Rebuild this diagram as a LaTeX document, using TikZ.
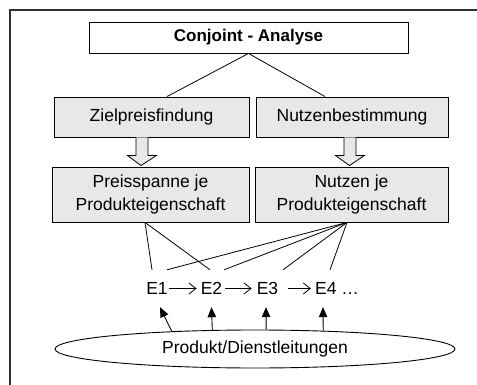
\documentclass[tikz,border=0pt]{standalone}
\usepackage{fontspec}
\setmainfont{Liberation Sans}
\usetikzlibrary{shapes.geometric,arrows.meta,calc}

\definecolor{boxgray}{HTML}{E8E8E8}
\definecolor{framegray}{HTML}{303030}

\tikzset{
  every node/.style={font=\fontsize{17.5}{23.5}\selectfont, text=black},
  plainbox/.style={draw=black, line width=0.9pt, inner sep=0pt, align=center},
  graybox/.style={plainbox, fill=boxgray},
  link/.style={draw=black, line width=0.8pt},
  enode/.style={inner xsep=0pt, inner ysep=0pt, minimum height=37pt},
  flowarrow/.style={draw=black, line width=0.8pt, -{Straight Barb[length=7pt,width=11pt]}},
  uparrow/.style={draw=black, line width=0.9pt, -{Triangle[length=10pt,width=8.5pt]}},
  blockarrow/.style={draw=black, line width=0.8pt, fill=boxgray, line join=miter}
}

\begin{document}
\begin{tikzpicture}[x=1pt,y=-1pt]
  \useasboundingbox (0,0) rectangle (477,385);

  % outer frame
  \draw[framegray, line width=1.4pt] (10,385) -- (10,10) -- (477,10);

  % boxes
  \node[plainbox, minimum width=319pt, minimum height=31pt, font=\fontsize{17}{20}\selectfont\bfseries]
    (top) at (248.5,37.5) {Conjoint - Analyse};
  \node[graybox, minimum width=195pt, minimum height=40pt] (zp) at (151.5,117) {Zielpreisfindung};
  \node[graybox, minimum width=192pt, minimum height=40pt] (nb) at (352,117) {Nutzenbestimmung};
  \node[graybox, minimum width=197pt, minimum height=55pt] (ps) at (150.5,194.5) {Preisspanne je\\Produkteigenschaft};
  \node[graybox, minimum width=193pt, minimum height=55pt] (nj) at (351.5,194.5) {Nutzen je\\Produkteigenschaft};

  % ellipse
  \node[draw=black, line width=0.9pt, ellipse, inner sep=0pt, minimum width=400pt, minimum height=38pt]
    (el) at (255,349) {Produkt/Dienstleitungen};

  % element row
  \node[enode] (e1) at (157,288.5) {E1};
  \node[enode] (e2) at (211.5,288.5) {E2};
  \node[enode] (e3) at (267.5,288.5) {E3};
  \node[enode] (e4) at (337,288.5) {E4 …};

  % branches from the top box
  \draw[link] (top.south) -- ($(zp.north)+(15.5,0)$);
  \draw[link] (top.south) -- ($(nb.north)+(-27,0)$);

  % block arrows between the gray boxes
  \foreach \src/\dst/\dx in {zp/ps/-9.5, nb/nj/-2} {
    \draw[blockarrow]
      ($(\src.south)+(\dx-6,0)$) -- ($(\src.south)+(\dx-6,18)$) --
      ($(\src.south)+(\dx-14.5,18)$) -- ($(\dst.north)+(\dx,-1)$) --
      ($(\src.south)+(\dx+14.5,18)$) -- ($(\src.south)+(\dx+6,18)$) --
      ($(\src.south)+(\dx+6,0)$);
  }

  % connectors to the elements
  \coordinate (psb) at ($(ps.south)+(-5.5,0)$);
  \coordinate (njb) at ($(nj.south)+(-4.5,0)$);
  \draw[link] (psb) -- ($(e1.north)+(-5,0)$);
  \draw[link] (psb) -- ($(e2.north)+(-1.5,0)$);
  \draw[link] (njb) -- ($(e1.north)+(10,0)$);
  \draw[link] (njb) -- ($(e2.north)+(12.5,0)$);
  \draw[link] (njb) -- ($(e3.north)+(15.5,0)$);
  \draw[link] (njb) -- ($(e4.north)+(-7,0)$);

  % sequence arrows
  \draw[flowarrow, shorten <=1pt, shorten >=4pt] (e1.east) -- (e2.west);
  \draw[flowarrow, shorten <=3pt, shorten >=5pt] (e2.east) -- (e3.west);
  \draw[flowarrow, shorten <=10pt, shorten >=4pt] (e3.east) -- (e4.west);

  % arrows from the ellipse
  \draw[uparrow] (el.168.6) -- ($(e1.south)+(3,0)$);
  \draw[uparrow] (el.156.1) -- (e2.south);
  \draw[uparrow] (el.60.1) -- ($(e3.south)+(-1.5,0)$);
  \draw[uparrow] (el.15.7) -- ($(e4.south)+(-14,0)$);
\end{tikzpicture}
\end{document}
